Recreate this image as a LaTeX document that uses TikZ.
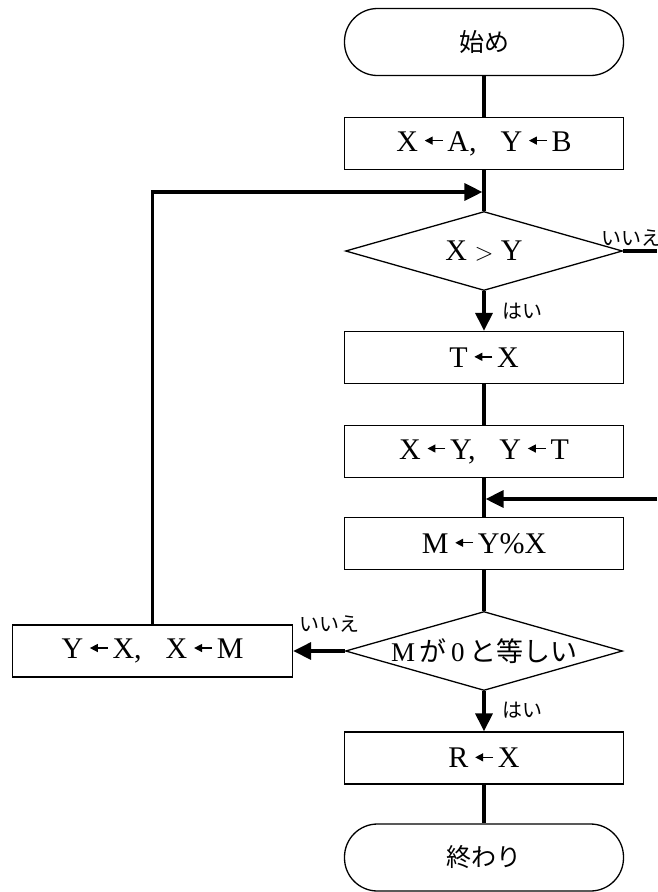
\documentclass[tikz,border=0pt]{standalone}
\usepackage{fontspec}
\setmainfont{Liberation Serif}
\newfontfamily\jp{Noto Sans CJK JP}
\usetikzlibrary{shapes.geometric,arrows.meta}

% short assignment arrow with solid head
\newcommand\lar{\hspace{6pt}\tikz[baseline=-10.5pt]\draw[line width=1.4pt,-{Triangle[length=8pt,width=8pt]}] (18pt,0pt) -- (0pt,0pt);\hspace{4pt}}
\newcommand\sep{,\hspace{24pt}}

\begin{document}
\begin{tikzpicture}[x=1pt,y=-1pt,
  proc/.style={draw, line width=1.3pt, minimum width=279pt, minimum height=52pt,
    inner sep=0pt, font=\fontsize{30}{30}\selectfont},
  term/.style={proc, rounded corners=33pt, minimum height=67pt, font=\jp\fontsize{25}{25}\selectfont},
  dec/.style={draw, diamond, aspect=3.5, line width=1.3pt, minimum width=277pt,
    minimum height=79pt, inner sep=0pt, font=\fontsize{30}{30}\selectfont},
  flow/.style={line width=3.3pt},
  flowarr/.style={flow, -{Triangle[length=18pt,width=17pt]}},
  lab/.style={font=\jp\fontsize{20}{20}\selectfont, inner sep=0pt, anchor=west}]

\useasboundingbox (0,0) rectangle (657,892);
\clip (0,0) rectangle (657,892);

\def\cx{484} % main column

% --- Nodes ---
\node[term] (start) at (\cx,42) {始め};
\node[proc] (init) at (\cx,143.5) {X\lar A\sep Y\lar B};
\coordinate (join1) at (\cx,192);
\node[dec] (test1) at (\cx,251) {\makebox[0pt]{X $>$ Y}};
\coordinate (out1) at (657,251);
\node[proc] (swap1) at (\cx,357.5) {T\lar X};
\node[proc] (swap2) at (\cx,451.5) {X\lar Y\sep Y\lar T};
\coordinate (join2) at (\cx,499);
\coordinate (in2) at (657,499);
\node[proc] (mod) at (\cx,543.5) {M\lar Y\%X};
\node[dec] (test2) at (\cx,651) {\makebox[0pt]{\fontsize{27}{27}\selectfont M\,{\jp が}\,0\,{\jp と等しい}}};
\node[proc, minimum width=280pt] (swap3) at (152.5,651) {Y\lar X\sep X\lar M};
\node[proc] (result) at (\cx,758) {R\lar X};
\node[term] (stop) at (\cx,857.5) {終わり};

% --- Labels ---
\node[lab] (no1) at (601,238) {いいえ};
\node[lab] (yes1) at (502,311) {はい};
\node[lab] (no2) at (299,624) {いいえ};
\node[lab] (yes2) at (502,710) {はい};

% --- Connectors ---
\draw[flow] (start) -- (init);
\draw[flow] (init) -- (join1) -- (test1);
\draw[flow] (test1.east) -- (out1);
\draw[flowarr] (test1) -- (swap1);
\draw[flow] (swap1) -- (swap2);
\draw[flow] (swap2) -- (join2) -- (mod);
\draw[flowarr, shorten >=1.6pt] (in2) -- (join2);
\draw[flow] (mod) -- (test2);
\draw[flowarr] (test2) -- (swap3);
\draw[flowarr] (test2) -- (result);
\draw[flow] (result) -- (stop);
\draw[flowarr, shorten >=1.6pt] (swap3.north) |- (join1);

\end{tikzpicture}
\end{document}
